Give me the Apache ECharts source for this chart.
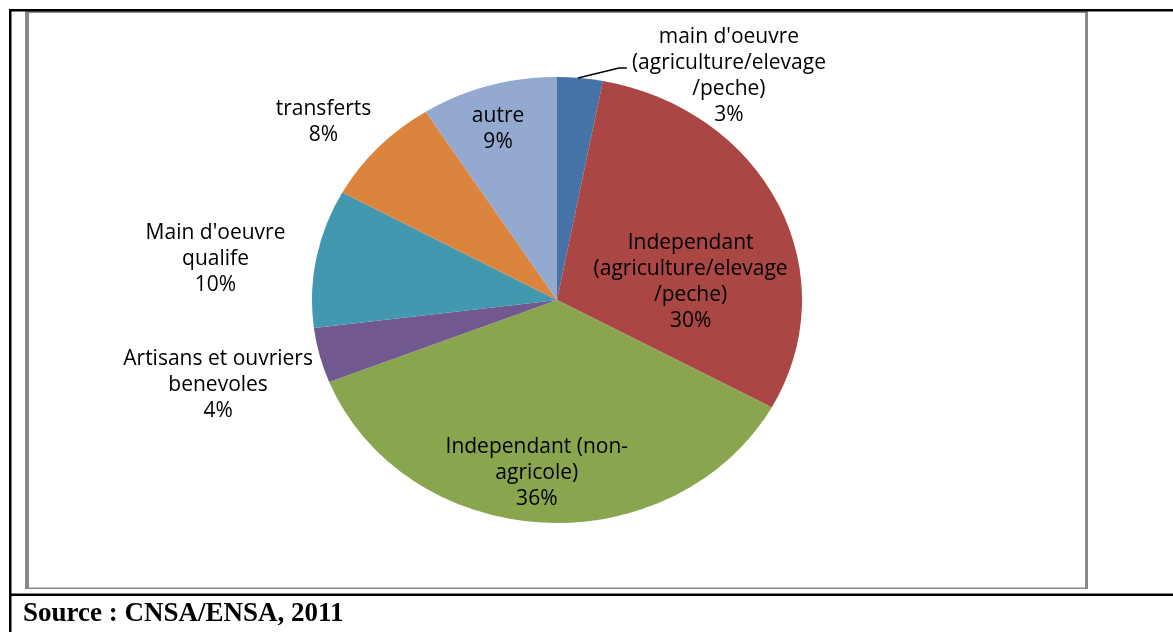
<!DOCTYPE html>
<html>
<head>
<meta charset="utf-8">
<script src="https://cdn.jsdelivr.net/npm/echarts@6/dist/echarts.min.js"></script>
<style>
  html, body { margin: 0; padding: 0; background: #fff; }
  #stage { position: relative; width: 1173px; height: 632px; overflow: hidden; }
  #pie, #overlay { position: absolute; left: 0; top: 0; width: 1173px; height: 632px; }
  /* the pie is a little wider than it is tall */
  #pie { transform: scaleX(1.0987); transform-origin: 557px 300px; }
</style>
</head>
<body>
<div id="stage">
  <div id="pie"></div>
  <div id="overlay"></div>
</div>
<script>
// Sources of income (share of households, %)
const categories = [
  "main d'oeuvre\n(agriculture/elevage\n/peche)",
  "Independant\n(agriculture/elevage\n/peche)",
  "Independant (non-\nagricole)",
  "Artisans et ouvriers\nbenevoles",
  "Main d'oeuvre\nqualife",
  "transferts",
  "autre"
];
const shares = [3, 30, 36, 4, 10, 8, 9];
const sliceColors = ['#4572A7', '#AA4643', '#89A54E', '#71588F', '#4198AF', '#DB843D', '#93A9CF'];
const sourceNote = 'Source : CNSA/ENSA, 2011';

const CX = 557, CY = 300, R = 223;
const LABEL_FONT = "'Open Sans', sans-serif";

// offsets of each label from its default pie position
const labelShift = [[97, 8], [30, 31], [-13, 59], [-228, 57], [-229, -20], [-150, -100], [-27, -61]];

const pieData = categories.map((name, i) => ({ name: name, value: shares[i] }));

// Filled slices
const pieChart = echarts.init(document.getElementById('pie'), null, { renderer: 'svg' });
pieChart.setOption({
  animation: false,
  backgroundColor: 'transparent',
  series: [{
    type: 'pie',
    center: [CX, CY],
    radius: R,
    startAngle: 90,
    clockwise: true,
    silent: true,
    itemStyle: { borderWidth: 0 },
    label: { show: false },
    labelLine: { show: false },
    data: pieData.map((d, i) => ({ name: d.name, value: d.value, itemStyle: { color: sliceColors[i] } }))
  }]
});

// Labels, leader line and the surrounding frame
const overlay = echarts.init(document.getElementById('overlay'), null, { renderer: 'canvas' });
overlay.setOption({
  animation: false,
  backgroundColor: 'transparent',
  graphic: [
    { type: 'rect', shape: { x: 25, y: 11, width: 4, height: 578 }, style: { fill: '#888' } },
    { type: 'rect', shape: { x: 25, y: 11, width: 1063, height: 2 }, style: { fill: '#888' } },
    { type: 'rect', shape: { x: 1085, y: 11, width: 3, height: 578 }, style: { fill: '#888' } },
    { type: 'rect', shape: { x: 25, y: 587.5, width: 1063, height: 1.5 }, style: { fill: '#888' } },
    { type: 'rect', shape: { x: 9, y: 9, width: 1164, height: 2.5 }, style: { fill: '#000' } },
    { type: 'rect', shape: { x: 9, y: 9, width: 2.5, height: 623 }, style: { fill: '#000' } },
    { type: 'rect', shape: { x: 9, y: 593.5, width: 1164, height: 2.5 }, style: { fill: '#000' } },
    {
      type: 'text', x: 23, y: 614,
      style: { text: sourceNote, fill: '#000', font: "bold 27px 'Liberation Serif', serif", align: 'left', verticalAlign: 'middle' }
    }
  ],
  series: [{
    type: 'pie',
    center: [CX, CY],
    radius: R,
    startAngle: 90,
    clockwise: true,
    silent: true,
    avoidLabelOverlap: false,
    itemStyle: { color: 'rgba(0,0,0,0)', borderWidth: 0 },
    label: {
      show: true,
      position: 'inside',
      rotate: 0,
      align: 'center',
      color: '#000',
      fontFamily: LABEL_FONT,
      fontSize: 21,
      lineHeight: 26,
      formatter: p => p.name + '\n' + p.value + '%'
    },
    labelLine: { show: false },
    labelLayout: function (p) {
      const s = labelShift[p.dataIndex];
      const out = { dx: s[0], dy: s[1] };
      if (p.dataIndex === 0) {
        out.align = 'center';
        const pts = p.labelLinePoints;
        if (pts && pts.length) {
          const end = pts[pts.length - 1];
          out.labelLinePoints = [pts[0], [end[0] - 8, end[1]], end];
        }
      }
      return out;
    },
    data: pieData.map((d, i) => i === 0 ? {
      name: d.name, value: d.value,
      label: { position: 'outside' },
      labelLine: { show: true, length: 10, length2: 48, lineStyle: { color: '#000', width: 1.5 } }
    } : { name: d.name, value: d.value })
  }]
});
</script>
</body>
</html>
